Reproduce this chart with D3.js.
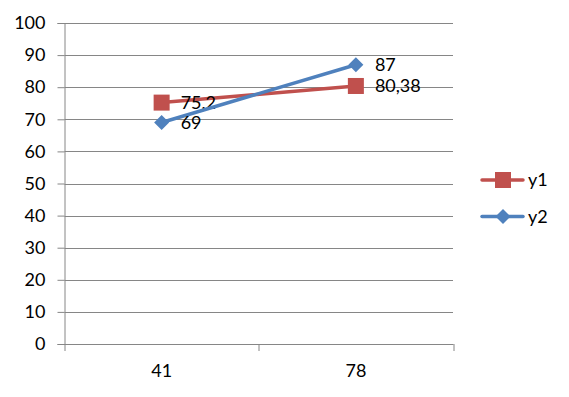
<!DOCTYPE html>
<html>
<head>
<meta charset="utf-8">
<script src="https://cdn.jsdelivr.net/npm/d3@7"></script>
<style>
  body { margin: 0; background: #fff; }
  text { font-family: Lato, "Open Sans", sans-serif; fill: #000; }
</style>
</head>
<body>
<div id="chart"></div>
<script>
// podaci
const categories = ["41", "78"];
const y1Values = [75.2, 80.38];
const y2Values = [69, 87];
const y1Labels = ["75,2", "80,38"];
const y2Labels = ["69", "87"];
const yTicks = [0, 10, 20, 30, 40, 50, 60, 70, 80, 90, 100];

const series = [
  { name: "y1", values: y1Values, labels: y1Labels, color: "#C0504D", shape: "square" },
  { name: "y2", values: y2Values, labels: y2Labels, color: "#4F81BD", shape: "diamond" }
];

const width = 569, height = 397;
const margin = { top: 23, right: 116, bottom: 53, left: 64.5 };
const plotW = width - margin.left - margin.right;
const plotH = height - margin.top - margin.bottom;

const svg = d3.select("#chart").append("svg")
  .attr("width", width)
  .attr("height", height);

const g = svg.append("g")
  .attr("transform", `translate(${margin.left},${margin.top})`);

const x = d3.scaleBand().domain(categories).range([0, plotW]);
const y = d3.scaleLinear().domain([0, 100]).range([plotH, 0]);

// mreža
g.selectAll(".grid")
  .data(yTicks)
  .enter()
  .append("line")
  .attr("class", "grid")
  .attr("x1", 0)
  .attr("x2", plotW)
  .attr("y1", (d) => Math.round(y(d)) + 0.5)
  .attr("y2", (d) => Math.round(y(d)) + 0.5)
  .attr("stroke", "#868686")
  .attr("stroke-width", 1);

// y os
const yAxis = g.append("g")
  .call(d3.axisLeft(y).tickValues(yTicks).tickSize(7).tickPadding(12));
yAxis.select(".domain").attr("stroke", "#868686");
yAxis.selectAll(".tick line").attr("stroke", "#868686");
yAxis.selectAll(".tick text").attr("font-size", "18px");

// x os
const xAxis = g.append("g")
  .attr("transform", `translate(0,${plotH})`)
  .call(d3.axisBottom(x).tickSize(0).tickPadding(20));
xAxis.select(".domain").attr("stroke", "#868686");
xAxis.selectAll(".tick text").attr("font-size", "18px");

// kvačice između kategorija
const boundaries = [0, plotW / 2, plotW];
g.selectAll(".xtick")
  .data(boundaries)
  .enter()
  .append("line")
  .attr("x1", (d) => Math.round(d) + 0.5)
  .attr("x2", (d) => Math.round(d) + 0.5)
  .attr("y1", plotH)
  .attr("y2", plotH + 7)
  .attr("stroke", "#868686");

const line = d3.line()
  .x((d, i) => x(categories[i]) + x.bandwidth() / 2)
  .y((d) => y(d));

function drawMarker(sel, shape, color) {
  if (shape === "square") {
    sel.append("rect")
      .attr("x", -8).attr("y", -8)
      .attr("width", 16).attr("height", 16)
      .attr("fill", color);
  } else {
    sel.append("path")
      .attr("d", "M0,-7.5L7.5,0L0,7.5L-7.5,0Z")
      .attr("fill", color);
  }
}

series.forEach((s) => {
  g.append("path")
    .datum(s.values)
    .attr("fill", "none")
    .attr("stroke", s.color)
    .attr("stroke-width", 3.5)
    .attr("stroke-linecap", "round")
    .attr("d", line);

  const pts = g.selectAll(null)
    .data(s.values)
    .enter()
    .append("g")
    .attr("transform", (d, i) =>
      `translate(${x(categories[i]) + x.bandwidth() / 2},${y(d)})`);
  pts.each(function () { drawMarker(d3.select(this), s.shape, s.color); });

  pts.append("text")
    .attr("x", 19)
    .attr("dy", "0.35em")
    .attr("font-size", "18px")
    .text((d, i) => s.labels[i]);
});

// legenda
const legend = svg.selectAll(".legend-item")
  .data(series)
  .enter()
  .append("g")
  .attr("class", "legend-item")
  .attr("transform", (d, i) => `translate(482, ${180 + i * 36.5})`);

legend.append("line")
  .attr("x1", 0).attr("x2", 41)
  .attr("stroke", (d) => d.color)
  .attr("stroke-width", 3.5)
  .attr("stroke-linecap", "round");

legend.append("g")
  .attr("transform", "translate(21,0)")
  .each(function (d) { drawMarker(d3.select(this), d.shape, d.color); });

legend.append("text")
  .attr("x", 46)
  .attr("dy", "0.35em")
  .attr("font-size", "18px")
  .text((d) => d.name);
</script>
</body>
</html>
